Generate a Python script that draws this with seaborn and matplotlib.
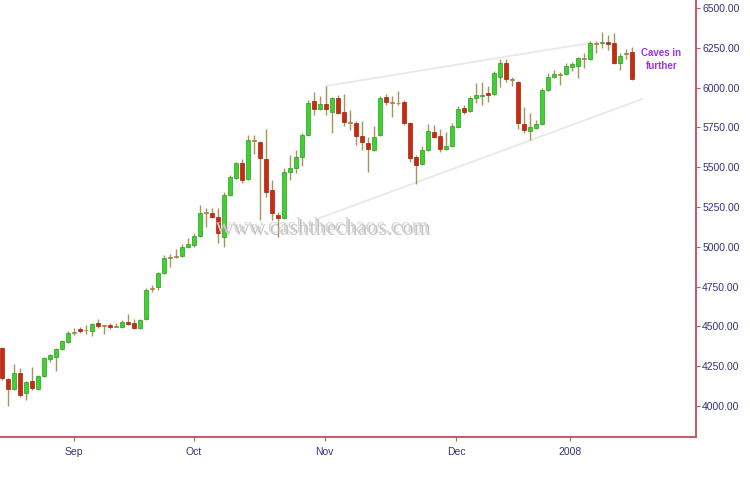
import numpy as np
import pandas as pd
import matplotlib
matplotlib.use("Agg")
import matplotlib.pyplot as plt
import matplotlib.patheffects as pe
import seaborn as sns

sns.set_theme(style="white")
plt.rcParams['font.family'] = ['Liberation Sans', 'DejaVu Sans']

# daily candles, mid Aug 2007 - mid Jan 2008
opens = [4364, 4170, 4107, 4207, 4082, 4157, 4107, 4188, 4295, 4308,
         4358, 4402, 4458, 4484, 4477, 4471, 4521, 4509, 4509, 4496,
         4496, 4527, 4521, 4490, 4546, 4735, 4747, 4835, 4929, 4936,
         4942, 4998, 5011, 5068, 5212, 5212, 5187, 5061, 5325, 5432,
         5526, 5426, 5664, 5658, 5551, 5356, 5199, 5181, 5470, 5495,
         5564, 5702, 5915, 5865, 5897, 5846, 5934, 5846, 5783, 5777,
         5696, 5652, 5608, 5702, 5940, 5909, 5903, 5909, 5777, 5564,
         5520, 5608, 5721, 5696, 5614, 5633, 5752, 5871, 5852, 5934,
         5947, 5966, 5959, 6066, 6154, 6053, 6035, 5771, 5727, 5746,
         5771, 5985, 6066, 6079, 6085, 6129, 6135, 6182, 6179, 6273,
         6280, 6286, 6280, 6154, 6211, 6223]
highs = [4370, 4176, 4264, 4239, 4157, 4245, 4195, 4308, 4327, 4364,
         4415, 4471, 4490, 4496, 4509, 4521, 4546, 4509, 4521, 4521,
         4540, 4578, 4546, 4546, 4741, 4760, 4842, 4948, 4955, 4986,
         5017, 5055, 5086, 5262, 5243, 5243, 5243, 5344, 5451, 5532,
         5551, 5702, 5702, 5664, 5740, 5419, 5218, 5495, 5576, 5608,
         5714, 5922, 5972, 5947, 6010, 5940, 5953, 5960, 5859, 5790,
         5790, 5689, 5758, 5947, 5960, 5947, 5978, 5922, 5784, 5576,
         5633, 5771, 5765, 5740, 5721, 5777, 5884, 5890, 5947, 6029,
         6035, 6010, 6104, 6179, 6179, 6066, 6041, 5878, 5840, 5796,
         5997, 6091, 6110, 6097, 6154, 6160, 6192, 6217, 6292, 6292,
         6349, 6330, 6343, 6217, 6242, 6254]
lows = [4165, 4000, 4100, 4057, 4038, 4100, 4100, 4182, 4276, 4220,
        4352, 4396, 4446, 4458, 4452, 4440, 4490, 4452, 4484, 4496,
        4490, 4509, 4484, 4484, 4540, 4716, 4728, 4829, 4873, 4929,
        4936, 4992, 4998, 5061, 5124, 5181, 5024, 4998, 5319, 5426,
        5400, 5419, 5583, 5168, 5313, 5168, 5061, 5175, 5419, 5463,
        5507, 5696, 5827, 5859, 5827, 5714, 5834, 5758, 5733, 5639,
        5608, 5470, 5602, 5696, 5890, 5815, 5890, 5765, 5532, 5394,
        5513, 5602, 5683, 5595, 5608, 5627, 5746, 5834, 5846, 5903,
        5890, 5909, 5953, 6003, 6035, 6010, 5740, 5714, 5670, 5740,
        5765, 5978, 6060, 6016, 6079, 6104, 6060, 6123, 6173, 6217,
        6248, 6236, 6148, 6110, 6179, 6047]
closes = [4176, 4107, 4207, 4069, 4151, 4113, 4188, 4301, 4320, 4358,
          4408, 4458, 4465, 4471, 4474, 4515, 4502, 4502, 4496, 4500,
          4527, 4515, 4490, 4540, 4728, 4741, 4835, 4929, 4936, 4939,
          4998, 5017, 5068, 5212, 5218, 5187, 5086, 5325, 5438, 5526,
          5419, 5670, 5667, 5557, 5344, 5212, 5181, 5470, 5495, 5564,
          5702, 5903, 5865, 5897, 5865, 5934, 5840, 5783, 5780, 5696,
          5658, 5614, 5689, 5934, 5909, 5903, 5900, 5777, 5557, 5513,
          5608, 5727, 5689, 5614, 5633, 5758, 5865, 5846, 5934, 5953,
          5956, 5953, 6091, 6154, 6053, 6047, 5777, 5733, 5752, 5771,
          5985, 6066, 6085, 6085, 6135, 6148, 6185, 6188, 6280, 6280,
          6289, 6273, 6154, 6198, 6217, 6053]

month_labels = ['Sep', 'Oct', 'Nov', 'Dec', '2008']
month_pos = [12, 32, 53.8, 75.7, 94.7]

# hand drawn trend channel
upper_x = [54, 98]
upper_y = [6010, 6280]
lower_x = [52.5, 106.7]
lower_y = [5174, 5928]

df = pd.DataFrame({'open': opens, 'high': highs, 'low': lows, 'close': closes})
df['day'] = np.arange(len(df))
move = df['close'] - df['open']

body_color = np.where(move.abs() < 8, '#c09a50', np.where(move >= 0, '#3fd22e', '#cc2a0e'))
edge_color = np.where(move.abs() < 8, '#9a7a40', np.where(move >= 0, '#2c9a22', '#9a2410'))

axis_col = '#c0606c'
text_col = '#34347a'

fig = plt.figure(figsize=(7.5, 4.87), dpi=100)
ax = fig.add_axes([0, 50 / 487, 696 / 750, 437 / 487])

sns.lineplot(x=upper_x, y=upper_y, ax=ax, color='#e8e8e8', linewidth=1.3)
sns.lineplot(x=lower_x, y=lower_y, ax=ax, color='#e8e8e8', linewidth=1.3)

ax.vlines(df['day'], df['low'], df['high'], color='#a8935a', linewidth=1.0, zorder=3)
ax.bar(df['day'], move.abs().clip(lower=6), bottom=df[['open', 'close']].min(axis=1),
       width=0.68, color=body_color, edgecolor=edge_color, linewidth=0.5, zorder=4)

ax.set_xlim(-1 / 3, 115.67)
ax.set_ylim(3805, 6550)

ax.yaxis.tick_right()
ax.set_yticks(np.arange(4000, 6501, 250))
ax.set_yticklabels([f"{v:.2f}" for v in np.arange(4000, 6501, 250)])
ax.set_xticks(month_pos)
ax.set_xticklabels(month_labels)
ax.tick_params(axis='both', which='major', direction='out', length=3, width=0.8,
               color=axis_col, labelcolor=text_col, labelsize=7.5)
ax.tick_params(axis='y', pad=1.5, right=True, left=False)
ax.tick_params(axis='x', pad=4, bottom=True)

for side in ['left', 'top']:
    ax.spines[side].set_visible(False)
for side in ['right', 'bottom']:
    ax.spines[side].set_color(axis_col)
    ax.spines[side].set_linewidth(1.5)
ax.grid(False)
ax.set_xlabel('')
ax.set_ylabel('')

ax.text(0.95, 0.863, 'Caves in\nfurther', transform=ax.transAxes, ha='center', va='center',
        fontsize=7, fontweight='bold', color='#9933ee', linespacing=1.35)

ax.text(0.463, 0.478, 'www.cashthechaos.com', transform=ax.transAxes, ha='center', va='center',
        fontsize=16, family=['Liberation Serif', 'DejaVu Serif'], color='#d2d2d2', alpha=0.9, zorder=6,
        path_effects=[pe.withSimplePatchShadow(offset=(1.5, -1.5), shadow_rgbFace='#8a8a8a', alpha=0.5)])

fig.savefig('out.png', dpi=100, facecolor='white')
